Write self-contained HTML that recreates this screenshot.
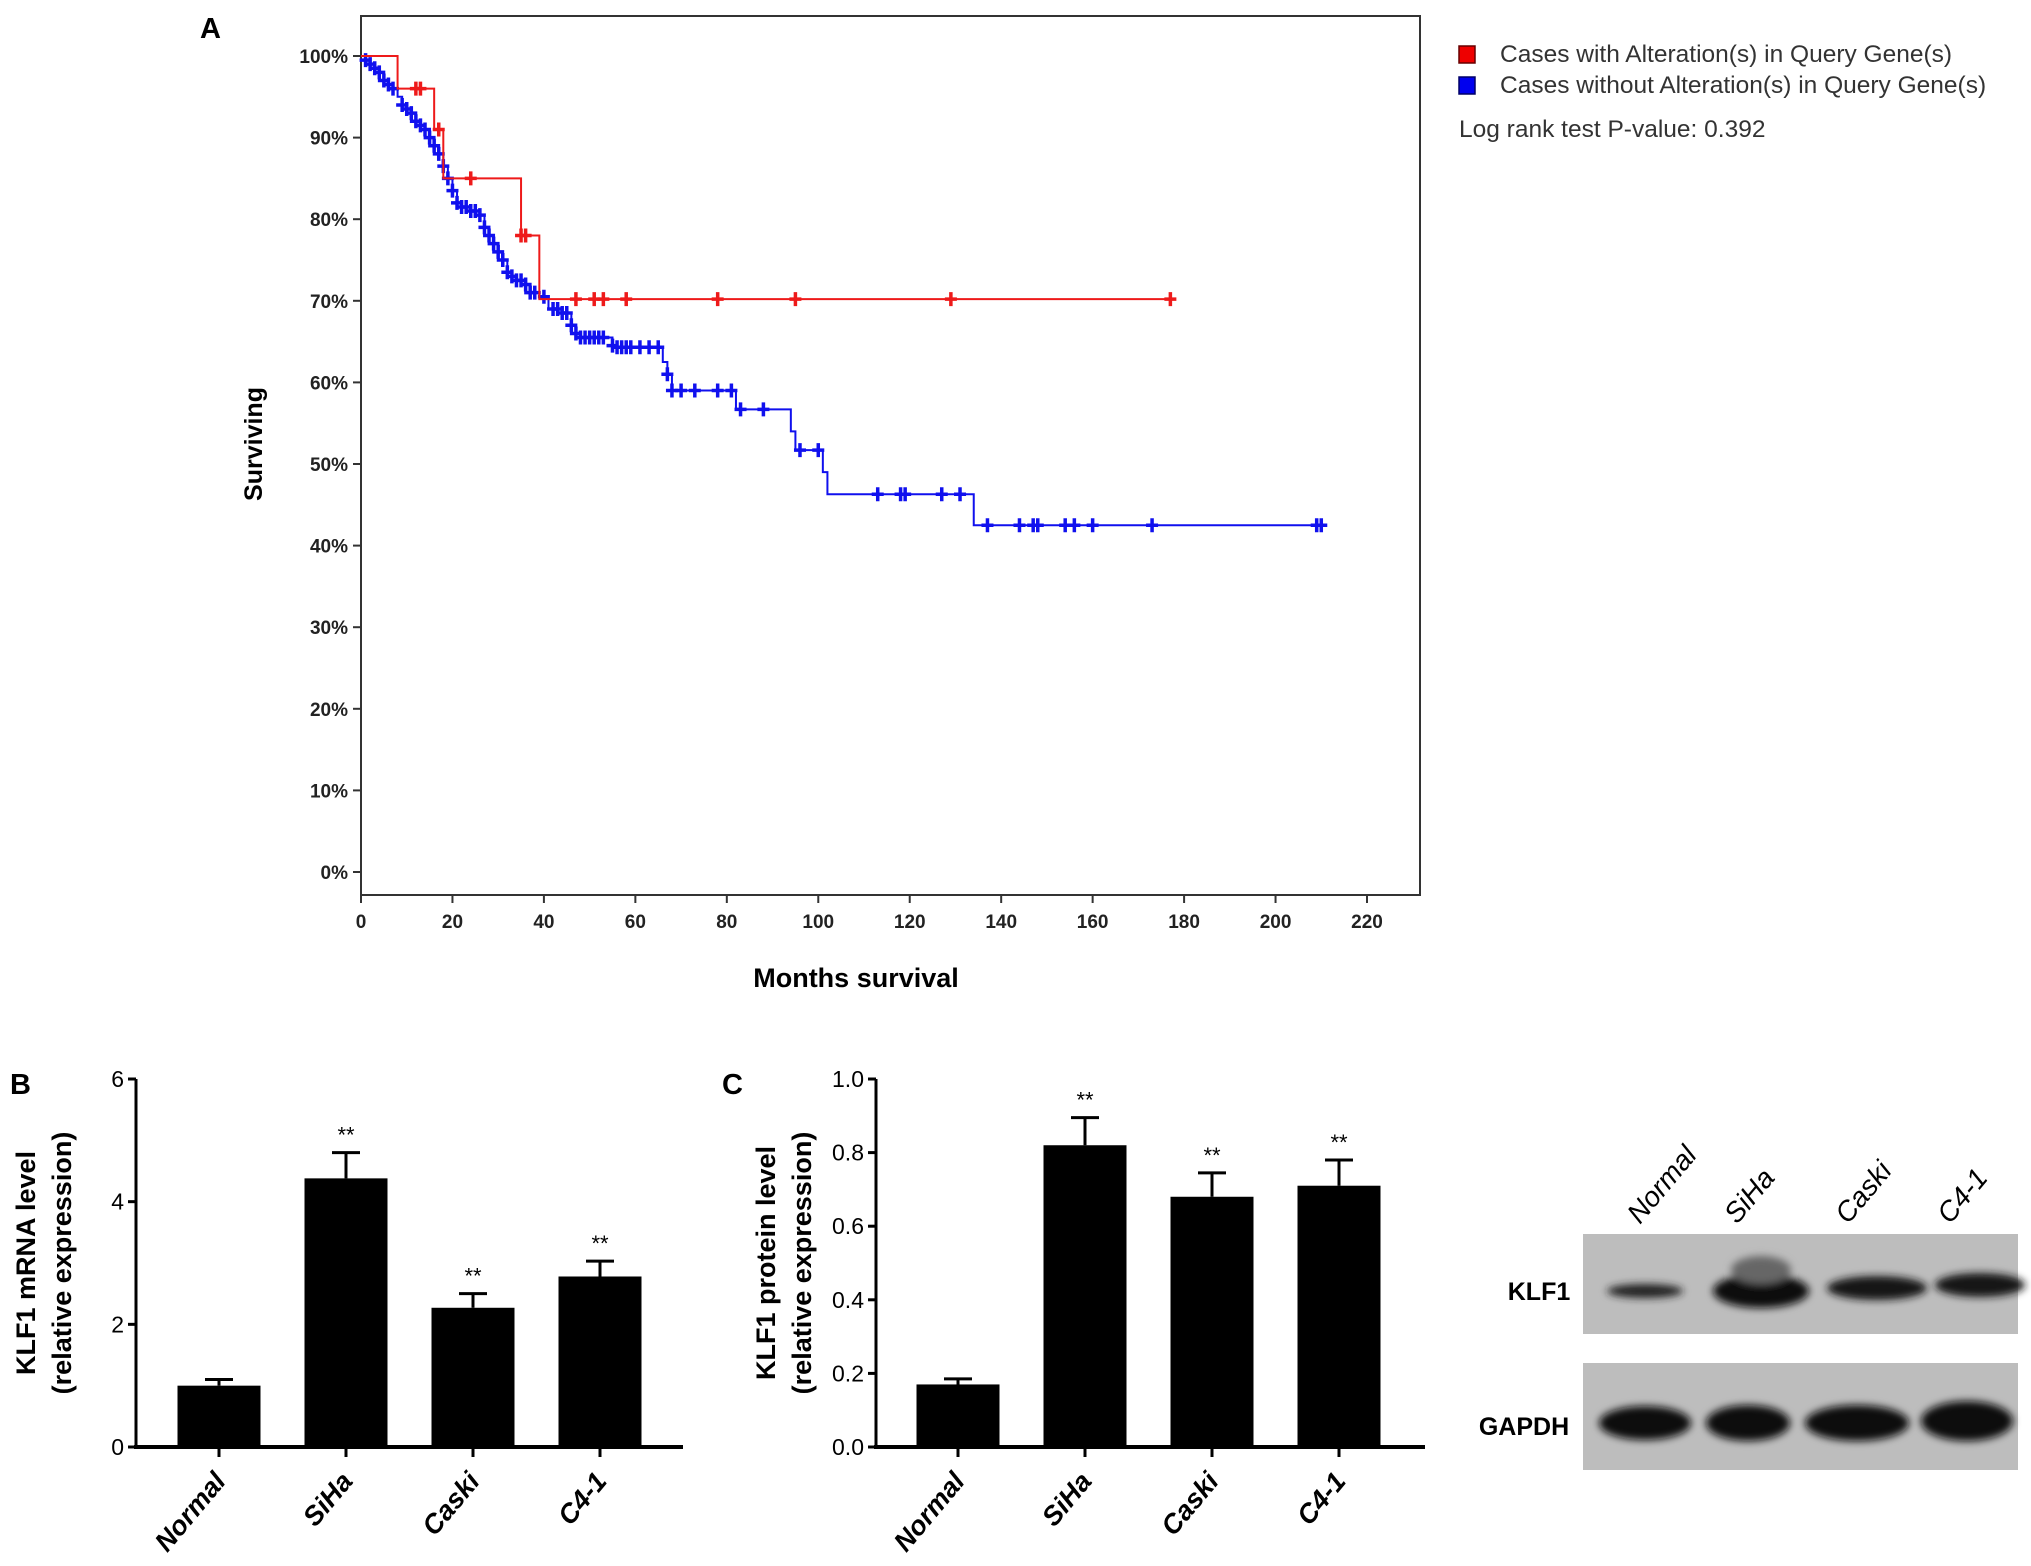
<!DOCTYPE html>
<html><head><meta charset="utf-8">
<style>
html,body{margin:0;padding:0;background:#fff;}
svg{display:block;font-family:"Liberation Sans",sans-serif;}
</style></head>
<body>
<svg id="fig" width="2031" height="1566" viewBox="0 0 2031 1566" xmlns="http://www.w3.org/2000/svg">
  <g id="panelA">
    <text x="200" y="38" font-size="29" font-weight="bold">A</text>
    <rect x="361" y="16" width="1059" height="879" fill="none" stroke="#333" stroke-width="2"/>
    <g id="aYticks"></g>
    <g id="aXticks"></g>
    <text transform="translate(262,444) rotate(-90)" text-anchor="middle" font-size="25" font-weight="bold">Surviving</text>
    <text x="856" y="987" text-anchor="middle" font-size="27" font-weight="bold">Months survival</text>
    <g id="kmBlue"></g>
    <g id="kmRed"></g>
    <g>
      <rect x="1459" y="46" width="16" height="17" fill="#e00" stroke="#600" stroke-width="1.5"/>
      <text x="1500" y="62" font-size="24.5" fill="#333">Cases with Alteration(s) in Query Gene(s)</text>
      <rect x="1459" y="77" width="16" height="17" fill="#00e" stroke="#006" stroke-width="1.5"/>
      <text x="1500" y="93" font-size="24.5" fill="#333">Cases without Alteration(s) in Query Gene(s)</text>
      <text x="1459" y="137" font-size="24.5" fill="#333">Log rank  test P-value: 0.392</text>
    </g>
  </g>
  <g id="panelB"></g>
  <g id="panelC"></g>
  <g id="blot">
    <defs>
      <filter id="blur" x="-20%" y="-50%" width="140%" height="200%"><feGaussianBlur stdDeviation="4"/></filter>
    </defs>
    <rect x="1583" y="1234" width="435" height="100" fill="#bdbdbd"/>
    <rect x="1583" y="1363" width="435" height="107" fill="#bdbdbd"/>
    <g filter="url(#blur)">
      <ellipse cx="1645" cy="1291" rx="38" ry="7" fill="#222"/>
      <ellipse cx="1761" cy="1291" rx="48" ry="17" fill="#111"/>
      <ellipse cx="1761" cy="1270" rx="30" ry="14" fill="#666"/>
      <ellipse cx="1877" cy="1288" rx="50" ry="12" fill="#151515"/>
      <ellipse cx="1980" cy="1285" rx="45" ry="12" fill="#151515"/>
      <ellipse cx="1645" cy="1423" rx="46" ry="17" fill="#111"/>
      <ellipse cx="1748" cy="1423" rx="42" ry="18" fill="#111"/>
      <ellipse cx="1857" cy="1423" rx="52" ry="18" fill="#111"/>
      <ellipse cx="1967" cy="1421" rx="46" ry="20" fill="#111"/>
    </g>
    <text x="1539" y="1300" text-anchor="middle" font-size="25" font-weight="bold">KLF1</text>
    <text x="1524" y="1435" text-anchor="middle" font-size="25" font-weight="bold">GAPDH</text>
    <g id="laneLabels"></g>
  </g>
</svg>
<script>
const NS="http://www.w3.org/2000/svg";
function mk(tag,attrs,parent,text){const e=document.createElementNS(NS,tag);for(const k in attrs)e.setAttribute(k,attrs[k]);if(text!==undefined)e.textContent=text;parent.appendChild(e);return e;}

// ---- Panel A data ----
const aYTicks=[0,10,20,30,40,50,60,70,80,90,100];
const aXTicks=[0,20,40,60,80,100,120,140,160,180,200,220];
const redTimes=[0,8,16,18,35,39,177];
const redSurv=[100,96,91,85,78,70.2,70.2];
const redCensor=[12,13,17,24,35,36,47,51,53,58,78,95,129,177];
const blueTimes=[0,1,2,3,4,5,6,7,8,9,10,11,12,13,14,15,16,17,18,19,20,21,22,24,26,27,28,29,30,31,32,33,34,36,37,39,41,44,46,47,48,55,56,66,67,68,82,94,95,101,102,134,211];
const blueSurv=[100,99.5,99,98.5,98,97,96.5,96,95,94,93.5,93,92,91.5,91,90,89,88,86.5,85,83.5,82,81.5,81,80.5,79,78,77,76,75,73.5,73,72.5,72,71,70.5,69,68.5,67,66,65.5,64.5,64.3,62.5,61,59,56.7,54,51.7,49,46.3,42.5,42.5];
const blueCensor=[1,2,3,4,5,6,7,9,10,11,12,13,14,15,16,17,18,19,20,21,22,23,24,25,26,27,28,29,30,31,32,33,34,35,36,37,38,40,42,43,44,45,46,47,48,49,50,51,52,53,55,56,57,58,59,61,63,65,67,68,70,73,78,81,83,88,96,100,113,118,119,127,131,137,144,147,148,154,156,160,173,209,210];

const ax=t=>361+t*(1367-361)/220;
const ay=s=>872-s*(872-56)/100;

const gY=document.getElementById('aYticks');
aYTicks.forEach(v=>{
  const t=mk('line',{x1:353,x2:361,y1:ay(v),y2:ay(v),stroke:'#333','stroke-width':2},gY);
  
  
  const l=mk('text',{x:348,y:ay(v)+7,'text-anchor':'end','font-size':19,'font-weight':'bold',fill:'#222'},gY,v+'%');
  
  
});
const gX=document.getElementById('aXticks');
aXTicks.forEach(v=>{
  const t=mk('line',{x1:ax(v),x2:ax(v),y1:895,y2:903,stroke:'#333','stroke-width':2},gX);
  
  
  const l=mk('text',{x:ax(v),y:928,'text-anchor':'middle','font-size':19,'font-weight':'bold',fill:'#222'},gX,v);
  
  
});
function survAt(times,surv,t){let s=surv[0];for(let i=0;i<times.length;i++){if(times[i]<=t)s=surv[i];}return s;}
function drawKM(g,times,surv,cens,color,name){
  let d='M'+ax(times[0])+','+ay(surv[0]);
  for(let i=1;i<times.length;i++){d+=' H'+ax(times[i])+' V'+ay(surv[i]);}
  const p=mk('path',{d:d,fill:'none',stroke:color,'stroke-width':2},g);
  
  
  cens.forEach(t=>{
    const x=ax(t),y=ay(survAt(times,surv,t));
    const c=mk('path',{d:`M${x-6},${y} H${x+6} M${x},${y-7} V${y+7}`,stroke:color,'stroke-width':3.5},g);
    
    
  });
}
drawKM(document.getElementById('kmBlue'),blueTimes,blueSurv,blueCensor,'#1010ee','blue');
drawKM(document.getElementById('kmRed'),redTimes,redSurv,redCensor,'#ee1a1a','red');

// ---- Bar panels data ----
const barCats=['Normal','SiHa','Caski','C4-1'];
const mrnaVals=[1.0,4.38,2.27,2.78];
const mrnaErr=[0.1,0.42,0.23,0.25];
const mrnaTicks=[0,2,4,6];
const protVals=[0.17,0.82,0.68,0.71];
const protErr=[0.015,0.075,0.065,0.07];
const protTicks=['0.0','0.2','0.4','0.6','0.8','1.0'];
const sigMarks=['','**','**','**'];

function barPanel(g,opt){
  const y=v=>1447-v*(1447-1079)/opt.max;
  mk('text',{x:opt.letterX,y:1094,'font-size':29,'font-weight':'bold'},g,opt.letter);
  const t1=mk('text',{transform:`translate(${opt.axX-101},1263) rotate(-90)`,'text-anchor':'middle','font-size':27,'font-weight':'bold'},g,opt.title1);
  
  
  const t2=mk('text',{transform:`translate(${opt.axX-65},1263) rotate(-90)`,'text-anchor':'middle','font-size':27,'font-weight':'bold'},g,'(relative expression)');
  
  
  const ya=mk('line',{x1:opt.axX,x2:opt.axX,y1:1079,y2:1449,stroke:'#000','stroke-width':3},g);
  
  
  const xa=mk('line',{x1:opt.axX-2,x2:opt.axEnd,y1:1447,y2:1447,stroke:'#000','stroke-width':4},g);
  
  
  opt.ticks.forEach(tv=>{
    const v=parseFloat(tv);
    const tk=mk('line',{x1:opt.axX-8,x2:opt.axX,y1:y(v),y2:y(v),stroke:'#000','stroke-width':3},g);
    
    
    const tl=mk('text',{x:opt.axX-12,y:y(v)+8,'text-anchor':'end','font-size':23},g,tv);
    
    
  });
  barCats.forEach((c,i)=>{
    const cx=opt.axX+opt.first+i*opt.step, w=83;
    const top=y(opt.vals[i]), et=y(opt.vals[i]+opt.err[i]);
    const eb=mk('path',{d:`M${cx},${top} V${et} M${cx-14},${et} H${cx+14}`,stroke:'#000','stroke-width':3,fill:'none'},g);
    
    
    const r=mk('rect',{x:cx-w/2,y:top,width:w,height:1447-top,fill:'#000'},g);
    
    
    const tk=mk('line',{x1:cx,x2:cx,y1:1447,y2:1457,stroke:'#000','stroke-width':3},g);
    
    
    if(sigMarks[i]){
      const s=mk('text',{x:cx,y:et-10,'text-anchor':'middle','font-size':22},g,sigMarks[i]);
      
      
    }
    const l=mk('text',{transform:`translate(${cx+8},1482) rotate(-50)`,'text-anchor':'end','font-size':27,'font-weight':'bold','font-style':'italic'},g,c);
    
    
  });
}
barPanel(document.getElementById('panelB'),{letter:'B',letterX:10,axX:136,axEnd:683,first:83,step:127,max:6,vals:mrnaVals,err:mrnaErr,ticks:mrnaTicks.map(String),title1:'KLF1 mRNA level'});
barPanel(document.getElementById('panelC'),{letter:'C',letterX:722,axX:876,axEnd:1425,first:82,step:127,max:1,vals:protVals,err:protErr,ticks:protTicks,title1:'KLF1 protein level'});

const lanes=document.getElementById('laneLabels');
const laneX=[1640,1737,1848,1950];
barCats.forEach((c,i)=>{
  const l=mk('text',{transform:`translate(${laneX[i]},1225) rotate(-50)`,'font-size':28,'font-style':'italic'},lanes,c);
  
  
});
</script>
</body></html>
